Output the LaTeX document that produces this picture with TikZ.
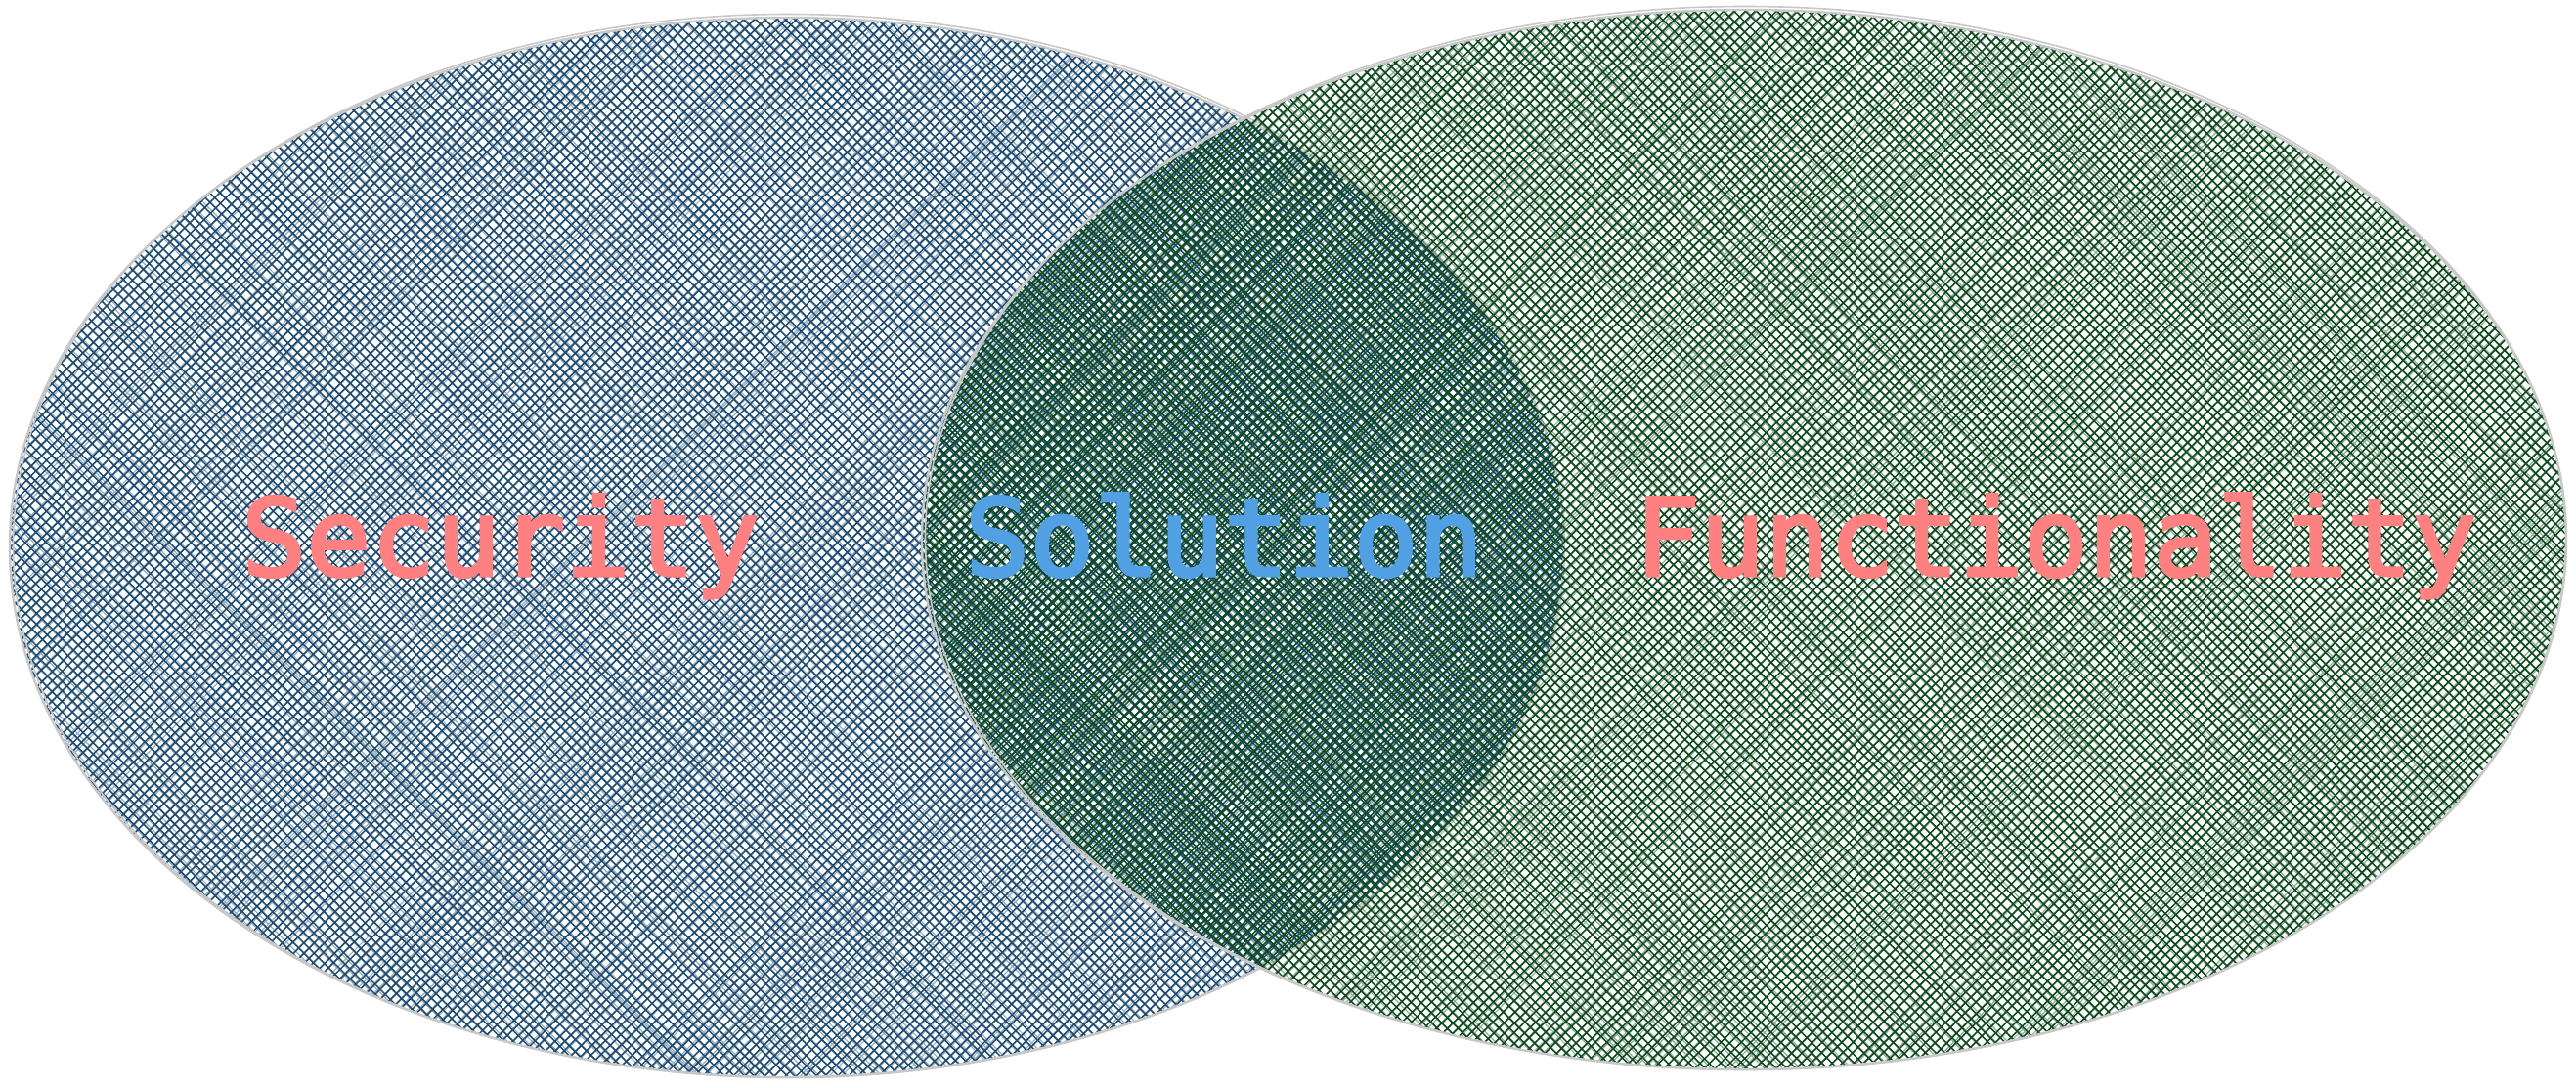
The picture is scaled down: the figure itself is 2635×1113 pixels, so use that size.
\documentclass[tikz,border=0pt]{standalone}
\usepackage{fontspec}
\newfontfamily\labelfont[FakeBold=3]{DejaVu Sans Mono}
\definecolor{hatchblue}{HTML}{1C4B73}
\definecolor{hatchgreen}{HTML}{0C4A1C}
\definecolor{outlinegray}{HTML}{C8C8C8}
\definecolor{salmonred}{HTML}{FF8080}
\definecolor{skyblue}{HTML}{52A0E4}
\tikzset{
  hatchline/.style={line width=1.5pt, line cap=round},
  hatchghost/.style={line width=1.2pt, line cap=round, opacity=0.45},
  rimline/.style={draw=outlinegray, line width=2.4pt},
  vennlabel/.style={font=\labelfont\fontsize{110}{130}\selectfont, inner sep=0pt, anchor=base}
}
% #1 cx, #2 cy, #3 rx, #4 ry, #5 colour, #6 half range, #7 number of lines
\newcommand\hatchfill[7]{%
  \begin{scope}
    \clip (#1,#2) ellipse [x radius=#3, y radius=#4];
    \draw[hatchline, draw=#5] foreach \k in {0,...,#7} {
      ({#1-#6+10.5*\k-1400+1.5*rand},{#2-1400+1.5*rand}) -- ({#1-#6+10.5*\k+1400+1.5*rand},{#2+1400+1.5*rand})
      ({#1-#6+10.5*\k-1400+1.5*rand},{#2+1400+1.5*rand}) -- ({#1-#6+10.5*\k+1400+1.5*rand},{#2-1400+1.5*rand})
    };
    \draw[hatchghost, draw=#5] foreach \k in {0,...,#7} {
      ({#1-#6+10.5*\k-1400+3*rand},{#2-1400+3*rand}) -- ({#1-#6+10.5*\k+1400+3*rand},{#2+1400+3*rand})
      ({#1-#6+10.5*\k-1400+3*rand},{#2+1400+3*rand}) -- ({#1-#6+10.5*\k+1400+3*rand},{#2-1400+3*rand})
    };
  \end{scope}}
\begin{document}
\begin{tikzpicture}[x=1pt,y=-1pt]
\pgfmathsetseed{42}
\useasboundingbox (0,0) rectangle (2635,1113);
% left ellipse (Security)
\hatchfill{805}{560}{795}{542}{hatchblue}{1340}{256}
\draw[rimline] (805,560) ellipse [x radius=795, y radius=542];
\draw[rimline, line width=1.6pt] (806.5,558.5) ellipse [x radius=793, y radius=544];
% right ellipse (Functionality)
\hatchfill{1784}{552}{841}{542}{hatchgreen}{1390}{265}
\draw[rimline] (1784,552) ellipse [x radius=841, y radius=542];
\draw[rimline, line width=1.6pt] (1785.5,550.5) ellipse [x radius=839, y radius=544];
% labels
\node[vennlabel, text=salmonred] (security) at (512,589) {Security};
\node[vennlabel, text=skyblue] (solution) at (1252,589) {Solution};
\node[vennlabel, text=salmonred] (functionality) at (2103,589) {Functionality};
\end{tikzpicture}
\end{document}
